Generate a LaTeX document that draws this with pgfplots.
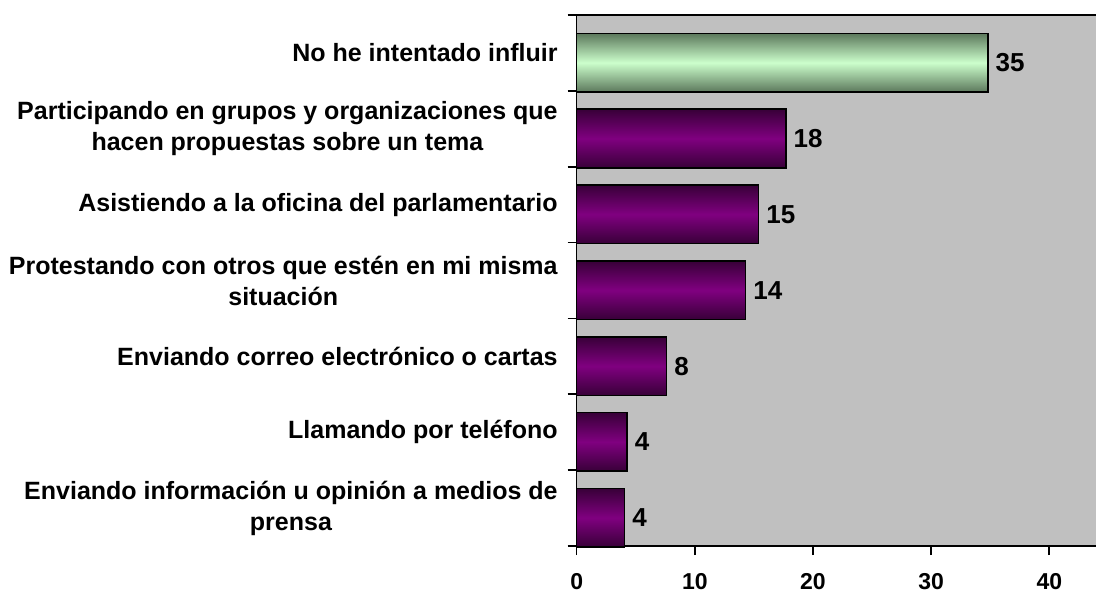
\documentclass[border=0pt]{standalone}
\usepackage{fontspec}
\setmainfont{Liberation Sans}
\usepackage{pgfplots}
\pgfplotsset{compat=1.18}
\definecolor{plotbg}{HTML}{C0C0C0}
\definecolor{purpmid}{HTML}{800080}
\definecolor{purpdark}{HTML}{380038}
\definecolor{greenmid}{HTML}{CCFFCC}
\definecolor{greendark}{HTML}{5C785C}
\begin{document}
\begin{tikzpicture}
\begin{axis}[
  at={(0,0)}, anchor=south west,
  scale only axis,
  width=261.7pt, height=265.5pt,
  xbar,
  xmin=0, xmax=44.3, ymin=-0.5, ymax=6.5,
  axis background/.style={fill=plotbg},
  every axis plot post/.append style={bar width=0.773, bar shift=-0.128},
  axis line style={black, line width=0.8pt},
  xtick={0,10,20,30,40},
  xtick pos=bottom, ytick pos=left,
  ytick={0,...,6},
  yticklabels={{Enviando información u opinión a medios de\\prensa},
               {Llamando por teléfono},
               {Enviando correo electrónico o cartas},
               {Protestando con otros que estén en mi misma\\situación},
               {Asistiendo a la oficina del parlamentario},
               {Participando en grupos y organizaciones que\\hacen propuestas sobre un tema},
               {No he intentado influir}},
  minor ytick={-0.5,0.5,...,6.5},
  tick align=outside,
  major tick length=4.5pt,
  minor tick length=4.5pt,
  major y tick style={draw=none},
  minor y tick style={black, line width=0.8pt},
  major x tick style={black, line width=0.8pt},
  yticklabel style={align=center, font=\bfseries\fontsize{12.5}{15.5}\selectfont, xshift=-1.5pt},
  xticklabel style={font=\bfseries\fontsize{11.5}{13}\selectfont, inner sep=0.5pt, yshift=-8.3pt},
  /pgf/number format/assume math mode=true,
  nodes near coords,
  point meta=x,
  nodes near coords style={font=\bfseries\fontsize{13}{15}\selectfont, anchor=west, inner sep=3.5pt,
     /pgf/number format/fixed, /pgf/number format/precision=0, /pgf/number format/assume math mode=true},
  clip=false,
  purp/.style={draw=black, line width=0.8pt, top color=purpdark, bottom color=purpdark, middle color=purpmid},
  grn/.style={draw=black, line width=0.8pt, top color=greendark, bottom color=greendark, middle color=greenmid},
]
\addplot[purp] coordinates {(4.06,0)};
\addplot[purp] coordinates {(4.26,1)};
\addplot[purp] coordinates {(7.6,2)};
\addplot[purp] coordinates {(14.3,3)};
\addplot[purp] coordinates {(15.4,4)};
\addplot[purp] coordinates {(17.7,5)};
\addplot[grn] coordinates {(34.8,6)};
\end{axis}
\pgfresetboundingbox
\path (-288.35pt,-24pt) rectangle (259.65pt,273pt);
\end{tikzpicture}
\end{document}
